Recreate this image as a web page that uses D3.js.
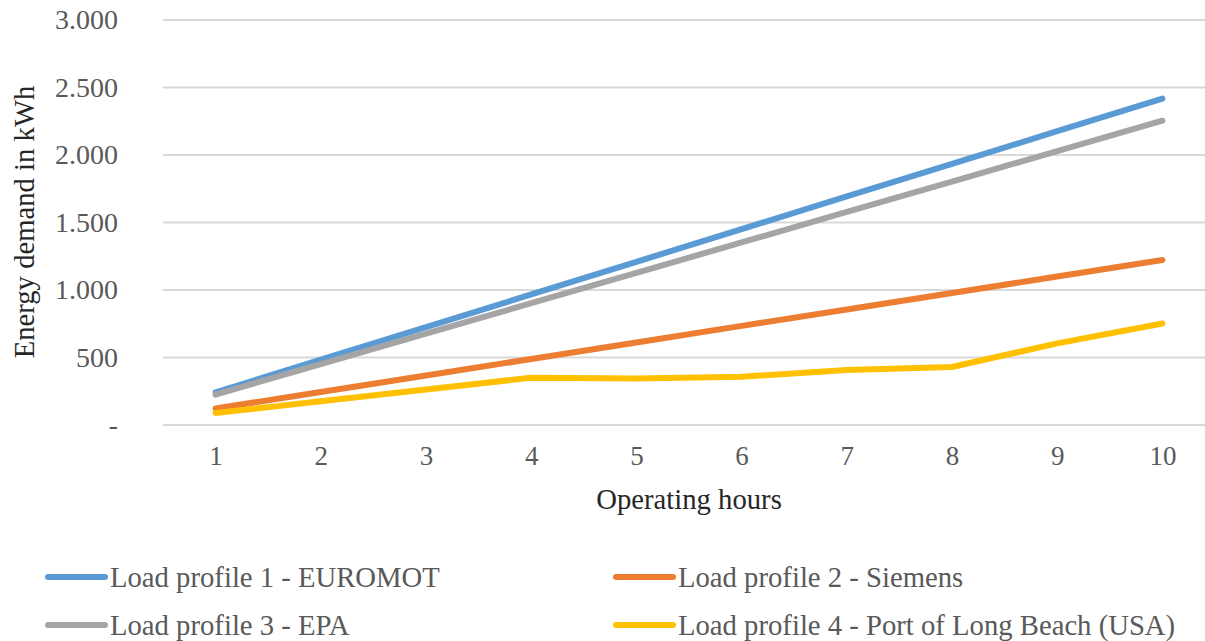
<!DOCTYPE html>
<html>
<head>
<meta charset="utf-8">
<script src="https://cdn.jsdelivr.net/npm/d3@7"></script>
<style>
  html, body { margin: 0; padding: 0; background: #fff; }
  svg { display: block; }
  svg text { font-family: "Liberation Serif", "Times New Roman", Tinos, "DejaVu Serif", serif; }
</style>
</head>
<body>
<svg id="chart" width="1205" height="641"></svg>
<script>
// Operating hours on the x axis
const hours = [1, 2, 3, 4, 5, 6, 7, 8, 9, 10];

// Energy demand (kWh) per load profile
const euromot   = [242, 484, 725, 967, 1209, 1451, 1693, 1934, 2176, 2418];
const siemens   = [122, 245, 367, 489, 611, 734, 856, 978, 1100, 1222];
const epa       = [225, 451, 676, 902, 1127, 1352, 1578, 1803, 2029, 2254];
const longBeach = [89, 176, 263, 350, 345, 358, 407, 430, 605, 752];

const yTicks = [0, 500, 1000, 1500, 2000, 2500, 3000];

const seriesNames = [
  "Load profile 1 - EUROMOT",
  "Load profile 2 - Siemens",
  "Load profile 3 - EPA",
  "Load profile 4 - Port of Long Beach (USA)"
];
const seriesValues = [euromot, siemens, epa, longBeach];
const colors = ["#5B9BD5", "#ED7D31", "#A5A5A5", "#FFC000"];

const svg = d3.select("#chart");

const x = d3.scalePoint().domain(hours).range([163, 1215]).padding(0.5);
const y = d3.scaleLinear().domain([0, 3000]).range([425, 20]);

const deLocale = d3.formatLocale({ decimal: ",", thousands: ".", grouping: [3], currency: ["", " €"] });
const fmt = deLocale.format(",d");

// Horizontal gridlines
svg.append("g")
  .selectAll("line")
  .data(yTicks)
  .join("line")
  .attr("x1", 163).attr("x2", 1215)
  .attr("y1", d => y(d)).attr("y2", d => y(d))
  .attr("stroke", "#D9D9D9").attr("stroke-width", 2);

// Y axis tick labels
const yAxis = d3.axisLeft(y).tickValues(yTicks)
  .tickFormat(d => d === 0 ? "-" : fmt(d)).tickSize(0).tickPadding(0);
const gy = svg.append("g").attr("transform", "translate(118,0)").call(yAxis);
gy.attr("font-family", null);
gy.select(".domain").remove();
gy.selectAll("text")
  .attr("font-size", 28).attr("fill", "#595959");

// X axis tick labels
const xAxis = d3.axisBottom(x).tickSize(0).tickPadding(0);
const gx = svg.append("g").attr("transform", "translate(0,446)").call(xAxis);
gx.attr("font-family", null);
gx.select(".domain").remove();
gx.selectAll("text")
  .attr("font-size", 27).attr("fill", "#595959");

// Axis titles
svg.append("text")
  .attr("x", 689).attr("y", 509)
  .attr("text-anchor", "middle")
  .attr("font-size", 28.7).attr("fill", "#262626")
  .text("Operating hours");

svg.append("text")
  .attr("transform", "translate(34,222) rotate(-90)")
  .attr("text-anchor", "middle")
  .attr("font-size", 28.7).attr("fill", "#262626")
  .text("Energy demand in kWh");

// Series lines
const line = d3.line().x((d, i) => x(hours[i])).y(d => y(d));
svg.append("g")
  .selectAll("path")
  .data(seriesValues)
  .join("path")
  .attr("d", d => line(d))
  .attr("fill", "none")
  .attr("stroke", (d, i) => colors[i])
  .attr("stroke-width", 6)
  .attr("stroke-linecap", "round")
  .attr("stroke-linejoin", "round");

// Legend, two columns
const legendPos = [[45, 577], [613, 577], [45, 625], [613, 625]];
const lg = svg.append("g")
  .selectAll("g")
  .data(seriesNames)
  .join("g")
  .attr("transform", (d, i) => `translate(${legendPos[i][0]},${legendPos[i][1]})`);
lg.append("line")
  .attr("x1", 3).attr("x2", 60)
  .attr("stroke", (d, i) => colors[i])
  .attr("stroke-width", 6).attr("stroke-linecap", "round");
lg.append("text")
  .attr("x", 65).attr("y", 10)
  .attr("font-size", 28.7).attr("fill", "#595959")
  .text(d => d);
</script>
</body>
</html>
